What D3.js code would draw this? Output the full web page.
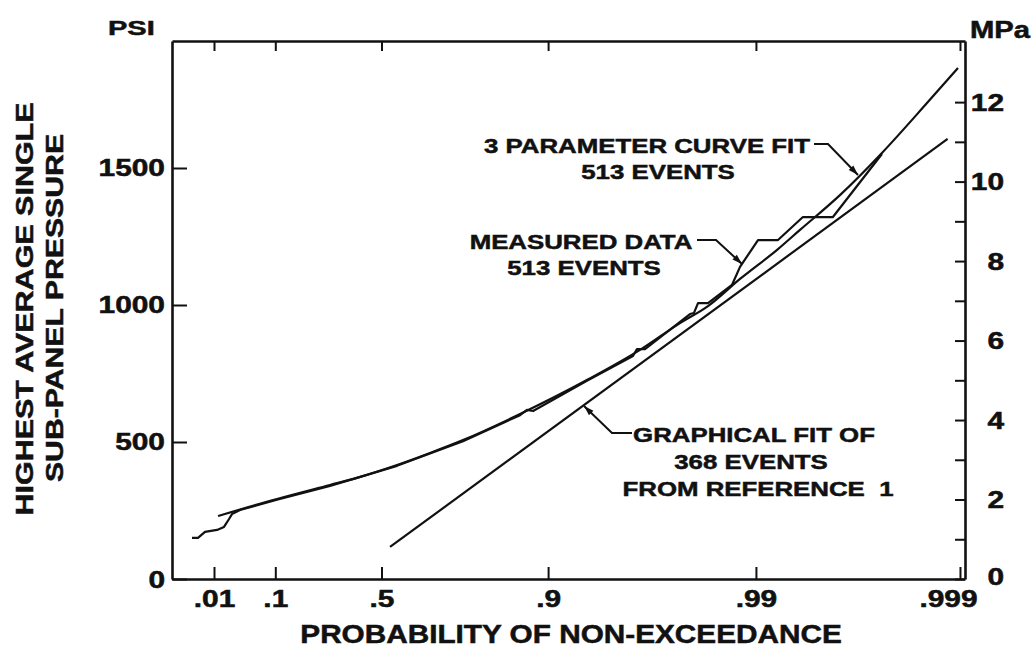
<!DOCTYPE html>
<html><head><meta charset="utf-8">
<script src="https://cdn.jsdelivr.net/npm/d3@7/dist/d3.min.js"></script>
<style>
body{margin:0;background:#fff}
svg{display:block;background:#fff}
text{font-family:"Liberation Sans",Arial,Helvetica,sans-serif;font-weight:bold;fill:#111;stroke:#111;stroke-width:0.5px;white-space:pre}
</style>
</head><body>
<svg id="chart" width="1035" height="660"></svg>
<script>
// ---------- data ----------
const probTicks = [0.01, 0.1, 0.5, 0.9, 0.99, 0.999];
const probTickLabels = [".01", ".1", ".5", ".9", ".99", ".999"];
const psiTicks = [0, 500, 1000, 1500];
const psiTickLabels = ["0", "500", "1000", "1500"];
const mpaTicks = [0, 1, 2, 3, 4, 5, 6, 7, 8, 9, 10, 11, 12];
const mpaTickLabels = ["0", "", "2", "", "4", "", "6", "", "8", "", "10", "", "12"];

// 3 parameter curve fit, 513 events
const fitProb = [0.0123, 0.1045, 0.2892, 0.401, 0.559, 0.670, 0.759, 0.8653, 0.9343, 0.9634, 0.97656, 0.98287, 0.98804, 0.99220, 0.99391, 0.99612, 0.997585, 0.998548, 0.998977];
const fitPsi  = [230, 292, 343, 369, 416, 460, 507, 602, 726, 836, 934, 996, 1095, 1204, 1274, 1401, 1555, 1737, 1865];

// measured data, 513 events (stepped trace)
const measProb = [0.00272, 0.00401, 0.00611, 0.01168, 0.01637, 0.02055, 0.02335, 0.0324, 0.1045, 0.2892, 0.559, 0.759, 0.8653, 0.8748, 0.8826, 0.9343, 0.96044, 0.96215, 0.96538, 0.97904, 0.97996, 0.98084, 0.98287, 0.98691, 0.98804, 0.99023, 0.99220, 0.99411, 0.99580, 0.997585];
const measPsi  = [150, 150, 172, 179, 190, 219, 237, 252, 289, 340, 413, 503, 598, 617, 613, 723, 814, 839, 839, 967, 971, 1007, 1007, 1073, 1139, 1237, 1237, 1321, 1321, 1551];

// graphical fit of 368 events from reference 1
const graphProb = [0.533, 0.99885];
const graphPsi  = [117, 1606];

const PSI_PER_MPA = 145.038;

// ---------- scales ----------
const svg = d3.select("#chart");
const L = 172, R = 965, T = 41, B = 579;
const gumbel = p => -Math.log(-Math.log(p));
const xr = d3.scaleLinear().domain([-2.002, 6.964]).range([L, R]);
const x = p => xr(gumbel(p));
const psiMax = 1963.5;
const y = d3.scaleLinear().domain([0, psiMax]).range([B, T]);
const yM = d3.scaleLinear().domain([0, psiMax / PSI_PER_MPA]).range([B, T]);

// ---------- axes ----------
const tickVals = probTicks.map(gumbel);
const gB = svg.append("g").attr("transform", `translate(0,${B})`)
  .call(d3.axisBottom(xr).tickValues(tickVals).tickSize(-12).tickSizeOuter(0)
    .tickFormat((d, i) => probTickLabels[i]));
const gT = svg.append("g").attr("transform", `translate(0,${T})`)
  .call(d3.axisTop(xr).tickValues(tickVals).tickSize(-10).tickSizeOuter(0).tickFormat(""));
const gL = svg.append("g").attr("transform", `translate(${L},0)`)
  .call(d3.axisLeft(y).tickValues(psiTicks).tickSize(-15).tickSizeOuter(0)
    .tickFormat((d, i) => psiTickLabels[i]));
const gR = svg.append("g").attr("transform", `translate(${R},0)`)
  .call(d3.axisRight(yM).tickValues(mpaTicks).tickSize(-10).tickSizeOuter(0)
    .tickFormat((d, i) => mpaTickLabels[i]));

[gB, gT, gL, gR].forEach(g => {
  g.select(".domain").attr("stroke", "#111").attr("stroke-width", 2.6);
  g.selectAll(".tick line").attr("stroke", "#111").attr("stroke-width", 2);
  g.attr("font-family", null).attr("font-size", null);
});

gB.selectAll(".tick text")
  .attr("x", 0).attr("y", 0).attr("dy", null).attr("fill", null)
  .attr("text-anchor", "middle").style("font-size", "23px")
  .attr("transform", (d, i) => `translate(${i === probTicks.length - 1 ? -12 : 0},28) scale(1.3,1)`);
gL.selectAll(".tick text")
  .attr("x", 0).attr("y", 0).attr("dy", null).attr("fill", null)
  .attr("text-anchor", "end").style("font-size", "23px")
  .attr("transform", "translate(-7,8) scale(1.3,1)");
gR.selectAll(".tick text")
  .attr("x", 0).attr("y", 0).attr("dy", null).attr("fill", null)
  .attr("text-anchor", "end").style("font-size", "23px")
  .attr("transform", (d) => `translate(39,${d === 0 ? 5 : 8}) scale(1.3,1)`);

// ---------- data lines ----------
const fitData = fitProb.map((p, i) => [p, fitPsi[i]]);
const measData = measProb.map((p, i) => [p, measPsi[i]]);
const graphData = graphProb.map((p, i) => [p, graphPsi[i]]);
const straight = d3.line().x(d => x(d[0])).y(d => y(d[1]));
const smooth = d3.line().x(d => x(d[0])).y(d => y(d[1])).curve(d3.curveMonotoneX);

svg.append("path").datum(graphData).attr("d", straight)
  .attr("fill", "none").attr("stroke", "#111").attr("stroke-width", 2.2);
svg.append("path").datum(fitData).attr("d", smooth)
  .attr("fill", "none").attr("stroke", "#111").attr("stroke-width", 2.2);
svg.append("path").datum(measData).attr("d", straight)
  .attr("fill", "none").attr("stroke", "#111").attr("stroke-width", 2.2).attr("stroke-linejoin", "round");

// ---------- text helpers ----------
function label(txt, cx, by, size, sx, anchor) {
  svg.append("text").text(txt)
    .attr("text-anchor", anchor || "middle")
    .style("font-size", size + "px")
    .attr("transform", `translate(${cx},${by}) scale(${sx},1)`);
}
function vlabel(txt, bx, cy, size, sx) {
  svg.append("text").text(txt)
    .attr("text-anchor", "middle")
    .style("font-size", size + "px")
    .attr("transform", `translate(${bx},${cy}) rotate(-90) scale(${sx},1)`);
}
function leader(pts) {
  svg.append("path").attr("d", d3.line()(pts))
    .attr("fill", "none").attr("stroke", "#111").attr("stroke-width", 2);
  const [tx, ty] = pts[pts.length - 1], [px, py] = pts[pts.length - 2];
  const len = Math.hypot(tx - px, ty - py), ux = (tx - px) / len, uy = (ty - py) / len;
  const bx = tx - ux * 10, by = ty - uy * 10;
  svg.append("path")
    .attr("d", `M${tx},${ty}L${bx - uy * 3.2},${by + ux * 3.2}L${bx + uy * 3.2},${by - ux * 3.2}Z`)
    .attr("fill", "#111");
}

// axis titles and units
label("PSI", 108, 35, 20, 1.45, "start");
label("MPa", 970, 38, 23, 1.27, "start");
label("PROBABILITY OF NON-EXCEEDANCE", 571, 643, 25, 1.19);
vlabel("HIGHEST AVERAGE SINGLE", 33, 309, 24, 1.27);
vlabel("SUB-PANEL PRESSURE", 63, 308, 24, 1.26);

// annotations
label("3 PARAMETER CURVE FIT", 647, 153, 21, 1.23);
label("513 EVENTS", 658, 179, 21, 1.23);
leader([[814, 144], [828, 144], [858, 175]]);

label("MEASURED DATA", 581, 249, 21, 1.23);
label("513 EVENTS", 584, 275, 21, 1.23);
leader([[697, 240], [716, 240], [742, 264]]);

label("GRAPHICAL FIT OF", 754, 442, 21, 1.23);
label("368 EVENTS", 751, 469, 21, 1.23);
label("FROM REFERENCE  1", 758, 496, 21, 1.23);
leader([[632, 433], [612, 433], [584, 406]]);
</script>
</body></html>
